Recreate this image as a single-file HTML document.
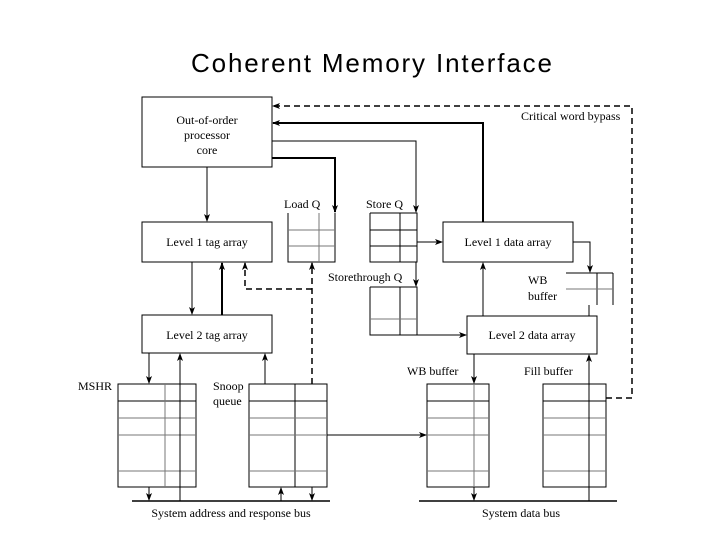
<!DOCTYPE html>
<html><head><meta charset="utf-8"><style>html,body{margin:0;padding:0;background:#fff}svg{display:block}</style></head>
<body>
<svg width="720" height="540" viewBox="0 0 720 540" xmlns="http://www.w3.org/2000/svg">
<defs>
<marker id="a" markerWidth="8" markerHeight="8" refX="7" refY="4" orient="auto" markerUnits="userSpaceOnUse"><path d="M0,1 L8,4 L0,7 L2,4 z" fill="#000"/></marker>
</defs>
<text x="191" y="72" font-family="Liberation Sans, sans-serif" font-size="26" textLength="361">Coherent Memory Interface</text>
<g font-family="Liberation Serif, serif" font-size="12" fill="#000">
<text x="207" y="124" text-anchor="middle">Out-of-order</text>
<text x="207" y="139" text-anchor="middle">processor</text>
<text x="207" y="154" text-anchor="middle">core</text>
<text x="207" y="246" text-anchor="middle">Level 1 tag array</text>
<text x="207" y="339" text-anchor="middle">Level 2 tag array</text>
<text x="508" y="246" text-anchor="middle">Level 1 data array</text>
<text x="532" y="339" text-anchor="middle">Level 2 data array</text>
<text x="284" y="208">Load Q</text>
<text x="366" y="208">Store Q</text>
<text x="328" y="281">Storethrough Q</text>
<text x="528" y="284">WB</text>
<text x="528" y="300">buffer</text>
<text x="521" y="120">Critical word bypass</text>
<text x="78" y="390">MSHR</text>
<text x="213" y="390">Snoop</text>
<text x="213" y="405">queue</text>
<text x="407" y="375">WB buffer</text>
<text x="524" y="375">Fill buffer</text>
<text x="231" y="517" text-anchor="middle">System address and response bus</text>
<text x="521" y="517" text-anchor="middle">System data bus</text>
</g>
<g fill="none" stroke="#000" stroke-width="1">
<rect x="142" y="97" width="130" height="70"/>
<rect x="142" y="222" width="130" height="40"/>
<rect x="142" y="315" width="130" height="38"/>
<rect x="443" y="222" width="130" height="40"/>
<rect x="467" y="316" width="130" height="38"/>
<path d="M288,213 V262 H335 V213"/>
<path d="M288,230 H335 M288,246 H335 M319,213 V262" stroke="#777"/>
<path d="M370,213 V262 H417 V213 H370 M370,230 H417 M370,246 H417 M400,213 V262"/>
<path d="M370,287 V335 H417 V287 H370 M400,287 V335"/>
<path d="M370,319 H417" stroke="#777"/>
<path d="M566,273 H613 M597,273 V305 M613,273 V305"/>
<path d="M566,289 H613" stroke="#777"/>
<rect x="118" y="384" width="78" height="103"/>
<path d="M118,401 H196"/>
<path d="M118,418 H196 M118,435 H196 M118,471 H196 M165,384 V487" stroke="#777"/>
<rect x="249" y="384" width="78" height="103"/>
<path d="M249,401 H327 M295,384 V487"/>
<path d="M249,418 H327 M249,435 H327 M249,471 H327" stroke="#777"/>
<rect x="427" y="384" width="62" height="103"/>
<path d="M427,401 H489"/>
<path d="M427,418 H489 M427,435 H489 M427,471 H489 M474,384 V487" stroke="#777"/>
<rect x="543" y="384" width="63" height="103"/>
<path d="M543,401 H606"/>
<path d="M543,418 H606 M543,435 H606 M543,471 H606 M589,384 V487" stroke="#777"/>
<path d="M132,501 H330 M419,501 H617" stroke-width="1.5"/>
<path d="M207,167 V221" marker-end="url(#a)"/>
<path d="M192,262 V314" marker-end="url(#a)"/>
<path d="M222,315 V263" stroke-width="2" marker-end="url(#a)"/>
<path d="M272,141 H416 V212" marker-end="url(#a)"/>
<path d="M416,262 V286" marker-end="url(#a)"/>
<path d="M417,335 H466" marker-end="url(#a)"/>
<path d="M272,158 H335 V212" stroke-width="2" marker-end="url(#a)"/>
<path d="M483,222 V123 H273" stroke-width="2" marker-end="url(#a)"/>
<path d="M417,242 H442" marker-end="url(#a)"/>
<path d="M573,242 H590 V272" marker-end="url(#a)"/>
<path d="M483,316 V263" marker-end="url(#a)"/>
<path d="M589,305 V316"/>
<path d="M149,353 V383" marker-end="url(#a)"/>
<path d="M180,501 V354" marker-end="url(#a)"/>
<path d="M265,384 V354" marker-end="url(#a)"/>
<path d="M149,487 V500" marker-end="url(#a)"/>
<path d="M281,501 V488" marker-end="url(#a)"/>
<path d="M312,487 V500" marker-end="url(#a)"/>
<path d="M327,435 H426" marker-end="url(#a)"/>
<path d="M474,354 V383" marker-end="url(#a)"/>
<path d="M474,487 V500" marker-end="url(#a)"/>
<path d="M589,501 V355" marker-end="url(#a)"/>
<g stroke-dasharray="6,4" stroke-width="1.5">
<path d="M606,398 H632 V106 H273" marker-end="url(#a)"/>
<path d="M312,384 V263" marker-end="url(#a)"/>
<path d="M312,289 H245 V263" marker-end="url(#a)"/>
</g>
</g>
</svg>
</body></html>
